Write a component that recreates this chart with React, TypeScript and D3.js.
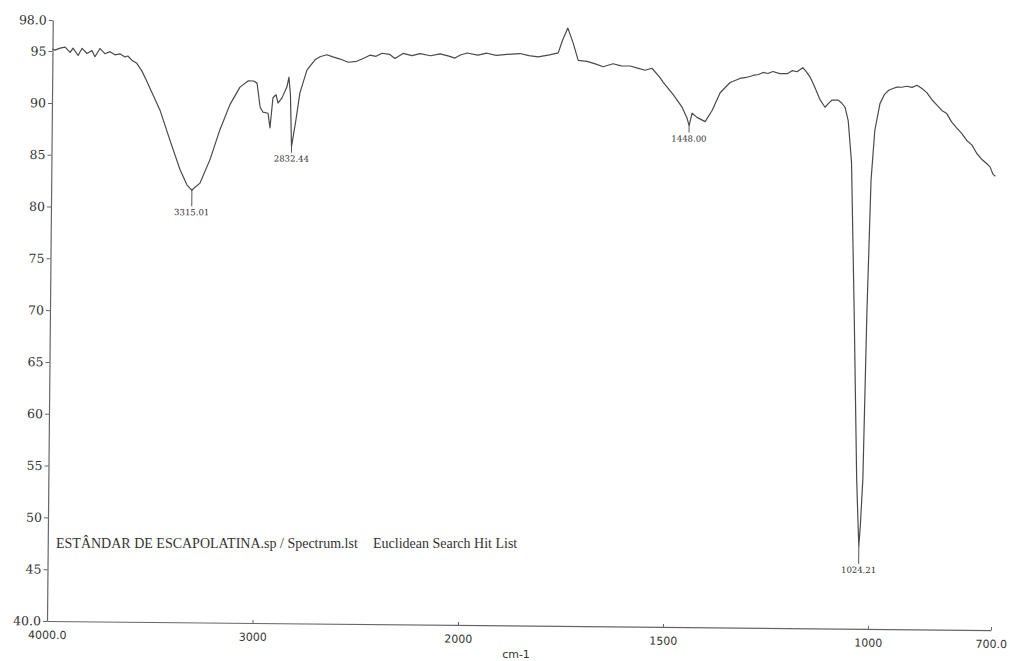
import React, { useRef, useEffect } from "react";
import * as d3 from "d3";

// ── Data ─────────────────────────────────────────────────────────────────────

const WAVENUMBERS = [
  4000, 3988, 3963, 3939, 3914, 3900, 3875, 3856, 3832, 3808, 3793, 3769, 3745,
  3720, 3696, 3672, 3647, 3633, 3613, 3589, 3565, 3540, 3526, 3474, 3424, 3374,
  3339, 3325, 3315.01, 3300, 3276, 3228, 3181, 3134, 3086, 3047, 3020, 3003,
  2987, 2973, 2948, 2938, 2925, 2910, 2900, 2881, 2857, 2848, 2840, 2832.44,
  2812, 2794, 2761, 2722, 2698, 2665, 2635, 2600, 2560, 2519, 2485, 2455, 2425,
  2396, 2360, 2333, 2294, 2250, 2211, 2160, 2114, 2075, 2041, 2015, 1991, 1965,
  1943, 1920, 1894, 1862, 1840, 1818, 1790, 1769, 1758, 1746, 1733, 1720, 1699,
  1680, 1659, 1635, 1615, 1593, 1575, 1557, 1540, 1520, 1513, 1488, 1466, 1453,
  1448.0, 1441, 1429, 1409, 1392, 1373, 1349, 1325, 1310, 1293, 1280, 1269,
  1257, 1245, 1228, 1210, 1198, 1186, 1172, 1163, 1154, 1142, 1129, 1117, 1108,
  1100, 1085, 1076, 1068, 1060, 1051, 1041, 1031, 1026, 1024.21, 1021, 1016,
  1010, 1003, 995, 983, 972, 962, 950, 942, 930, 918, 905, 893, 881, 869, 856,
  844, 832, 820, 808, 795, 783, 770, 758, 746, 733, 721, 713, 706, 700,
];

const TRANSMITTANCE = [
  95.2, 95.1, 95.3, 95.4, 94.9, 95.3, 94.6, 95.3, 94.8, 95.1, 94.5, 95.3, 94.8,
  95.0, 94.7, 94.8, 94.5, 94.6, 94.2, 93.9, 93.2, 92.2, 91.6, 89.4, 86.5, 83.7,
  82.2, 81.9, 81.7, 82.0, 82.4, 84.7, 87.6, 90.0, 91.7, 92.3, 92.3, 92.1, 89.8,
  89.3, 89.2, 87.8, 90.7, 91.0, 90.2, 90.7, 91.8, 92.7, 91.0, 86.0, 88.6, 91.2,
  93.4, 94.4, 94.7, 94.9, 94.7, 94.5, 94.2, 94.3, 94.6, 94.9, 94.8, 95.1, 95.0,
  94.6, 95.1, 94.9, 95.1, 94.9, 95.1, 94.9, 94.7, 95.0, 95.2, 95.0, 95.2, 95.0,
  95.1, 95.2, 95.0, 94.9, 95.1, 95.3, 96.6, 97.7, 96.3, 94.6, 94.5, 94.3, 94.0,
  94.3, 94.1, 94.1, 93.9, 93.7, 93.9, 93.0, 92.6, 91.4, 90.2, 89.1, 88.4, 89.6,
  89.2, 88.8, 89.9, 91.6, 92.6, 93.0, 93.1, 93.3, 93.4, 93.6, 93.5, 93.7, 93.5,
  93.5, 93.8, 93.7, 94.1, 93.7, 93.2, 92.2, 91.0, 90.3, 90.7, 91.0, 91.0, 90.7,
  90.3, 89.0, 85.0, 70.5, 54.4, 49.5, 48.0, 50.0, 54.4, 70.5, 83.3, 88.1, 90.7,
  91.6, 92.0, 92.2, 92.3, 92.3, 92.4, 92.3, 92.5, 92.2, 91.8, 91.1, 90.6, 90.1,
  89.8, 89.0, 88.4, 87.9, 87.2, 86.8, 86.0, 85.4, 85.0, 84.7, 84.0, 83.8,
];

const X_TICKS = [4000, 3000, 2000, 1500, 1000, 700];
const X_TICK_LABELS = ["4000.0", "3000", "2000", "1500", "1000", "700.0"];

const Y_TICKS = [98, 95, 90, 85, 80, 75, 70, 65, 60, 55, 50, 45, 40];
const Y_TICK_LABELS = [
  "98.0", "95", "90", "85", "80", "75", "70", "65", "60", "55", "50", "45", "40.0",
];

const PEAK_WN = [3315.01, 2832.44, 1448.0, 1024.21];
const PEAK_T = [81.7, 86.0, 88.4, 48.0];
const PEAK_LABELS = ["3315.01", "2832.44", "1448.00", "1024.21"];

// ── Layout ────────────────────────────────────────────────────────────────────

const WIDTH = 1010;
const HEIGHT = 661;
const LEFT = 47;
const BREAK = 458; // x position of 2000 cm-1, scale doubles below it
const RIGHT = 991;
const TOP = 20;
const BOTTOM = 621;
const TILT = 0.55; // the scan is slightly rotated
const PEAK_GAP = [22, 12, 13, 24];

export default function App() {
  const svgRef = useRef<SVGSVGElement>(null);

  useEffect(() => {
    if (!svgRef.current) return;
    const svg = d3.select(svgRef.current);
    svg.selectAll("*").remove();

    const x = d3.scaleLinear().domain([4000, 2000, 700]).range([LEFT, BREAK, RIGHT]);
    const y = d3.scaleLinear().domain([40, 98]).range([BOTTOM, TOP]);

    const g = svg.append("g").attr("transform", `rotate(${TILT},${LEFT},${BOTTOM})`);

    // Y axis
    g.append("g")
      .attr("transform", `translate(${LEFT},0)`)
      .call(
        d3
          .axisLeft(y)
          .tickValues(Y_TICKS)
          .tickSizeInner(4)
          .tickSizeOuter(0)
          .tickPadding(2)
          .tickFormat((_, i) => Y_TICK_LABELS[i])
      )
      .call((axis) => {
        axis.select(".domain").attr("stroke", "#666").attr("stroke-width", 1.2);
        axis.selectAll(".tick line").attr("stroke", "#666");
        axis
          .selectAll(".tick text")
          .attr("fill", "#333")
          .attr("font-family", "DejaVu Serif")
          .attr("font-size", 12.5);
      });

    // X axis
    g.append("g")
      .attr("transform", `translate(0,${BOTTOM})`)
      .call(
        d3
          .axisBottom(x)
          .tickValues(X_TICKS)
          .tickSizeInner(-3)
          .tickSizeOuter(0)
          .tickFormat((_, i) => X_TICK_LABELS[i])
      )
      .call((axis) => {
        axis.select(".domain").attr("stroke", "#666").attr("stroke-width", 1.2);
        axis.selectAll(".tick line").attr("stroke", "#666");
        axis
          .selectAll(".tick text")
          .attr("y", 10)
          .attr("fill", "#333")
          .attr("font-family", "DejaVu Sans")
          .attr("font-size", 11);
      });

    // Spectrum
    const points: [number, number][] = WAVENUMBERS.map((w, i) => [w, TRANSMITTANCE[i]]);
    const line = d3
      .line<[number, number]>()
      .x((d) => x(d[0]))
      .y((d) => y(d[1]));

    g.append("path")
      .datum(points)
      .attr("d", line)
      .attr("fill", "none")
      .attr("stroke", "#4a4a4a")
      .attr("stroke-width", 1.2)
      .attr("stroke-linejoin", "round");

    // Peak markers
    PEAK_WN.forEach((w, i) => {
      const px = x(w);
      const py = y(PEAK_T[i]);
      g.append("line")
        .attr("x1", px)
        .attr("x2", px)
        .attr("y1", py)
        .attr("y2", py + PEAK_GAP[i] - 6)
        .attr("stroke", "#555")
        .attr("stroke-width", 1);
      g.append("text")
        .attr("x", px)
        .attr("y", py + PEAK_GAP[i])
        .attr("dy", "0.35em")
        .attr("text-anchor", "middle")
        .attr("font-family", "DejaVu Serif")
        .attr("font-size", 8.5)
        .attr("fill", "#333")
        .text(PEAK_LABELS[i]);
    });
  }, []);

  return (
    <div style={{ width: WIDTH, height: HEIGHT, background: "#fff" }}>
      <style>{`body{margin:0}`}</style>
      <svg ref={svgRef} width={WIDTH} height={HEIGHT} style={{ display: "block", position: "absolute", left: 0, top: 0 }} />
      <svg width={WIDTH} height={HEIGHT} style={{ display: "block", position: "absolute", left: 0, top: 0 }}>
        <text x={56} y={548} fontFamily="Liberation Serif" fontSize={14} fill="#333">
          ESTÂNDAR DE ESCAPOLATINA.sp / Spectrum.lst
        </text>
        <text x={373} y={548} fontFamily="Liberation Serif" fontSize={14} fill="#333">
          Euclidean Search Hit List
        </text>
        <text x={516} y={655} textAnchor="middle" dominantBaseline="middle" fontFamily="DejaVu Sans" fontSize={11} fill="#333">
          cm-1
        </text>
      </svg>
    </div>
  );
}
